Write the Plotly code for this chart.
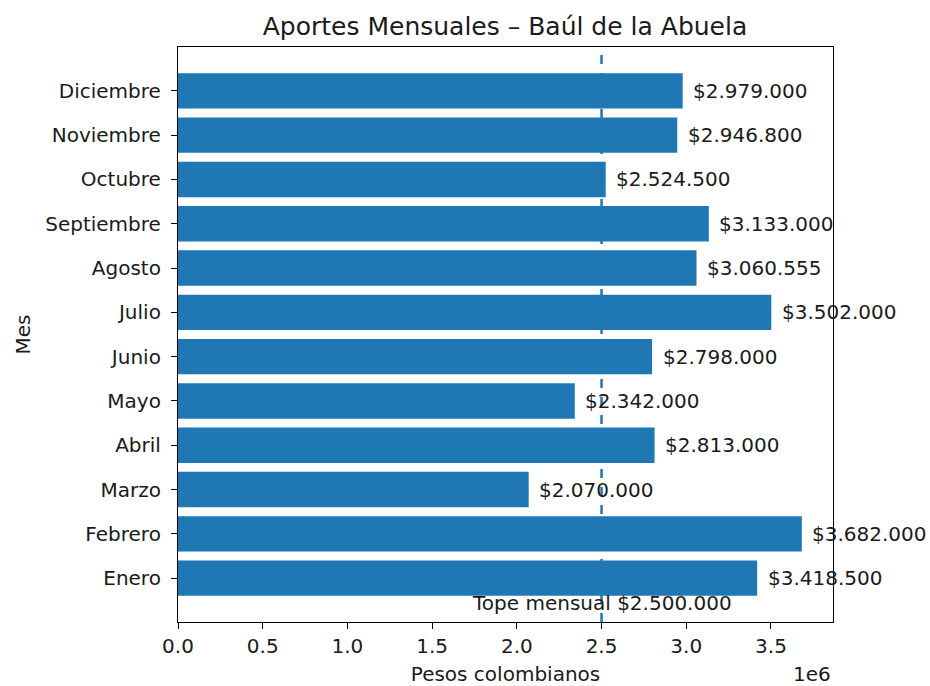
import plotly.graph_objects as go

meses = ["Enero", "Febrero", "Marzo", "Abril", "Mayo", "Junio", "Julio",
         "Agosto", "Septiembre", "Octubre", "Noviembre", "Diciembre"]
aportes = [3418500, 3682000, 2070000, 2813000, 2342000, 2798000, 3502000,
           3060555, 3133000, 2524500, 2946800, 2979000]
tope = 2500000
x_ticks = [0, 500000, 1000000, 1500000, 2000000, 2500000, 3000000, 3500000]
x_tick_labels = ["0.0", "0.5", "1.0", "1.5", "2.0", "2.5", "3.0", "3.5"]

BLUE = "#1f77b4"
FONT = "DejaVu Sans"
FS = 20
TXT = "#1a1a1a"

def fmt(v):
    return "$" + f"{v:,}".replace(",", ".")

fig = go.Figure()
fig.add_trace(go.Bar(
    x=aportes, y=list(range(len(meses))), orientation="h",
    marker=dict(color=BLUE, line=dict(width=0)), width=0.8,
    hoverinfo="skip",
))

fig.add_shape(type="line", xref="x", yref="paper", x0=tope, x1=tope, y0=0, y1=1,
              line=dict(color=BLUE, width=2.5, dash="dash"), layer="above")

annotations = []
for i, v in enumerate(aportes):
    annotations.append(dict(x=v + 50000, y=i, xref="x", yref="y", text=fmt(v),
                            showarrow=False, xanchor="left", yanchor="middle",
                            font=dict(family=FONT, size=FS, color=TXT)))
annotations.append(dict(x=tope, y=-0.55, xref="x", yref="y",
                        text="Tope mensual " + fmt(tope), showarrow=False,
                        xanchor="center", yanchor="middle",
                        font=dict(family=FONT, size=FS, color=TXT)))
annotations.append(dict(x=1, y=0, xref="paper", yref="paper", text="1e6",
                        showarrow=False, xanchor="right", yanchor="middle", yshift=-52,
                        font=dict(family=FONT, size=FS, color=TXT)))
fig.update_layout(annotations=annotations)

xmax = max(aportes) * 1.05
fig.update_layout(
    width=930, height=686,
    margin=dict(l=178, r=97, t=47, b=64),
    paper_bgcolor="white", plot_bgcolor="white",
    showlegend=False,
    font=dict(family=FONT, size=FS, color=TXT),
    title=dict(text="Aportes Mensuales – Baúl de la Abuela", x=505 / 930, xanchor="center",
               y=1 - 26 / 686, yanchor="middle", font=dict(family=FONT, size=25, color=TXT)),
    xaxis=dict(range=[0, xmax], tickvals=x_ticks, ticktext=x_tick_labels, automargin=False,
               showgrid=False, zeroline=False, showline=True, mirror=True,
               linecolor="black", linewidth=1.2, ticks="outside", ticklen=6,
               tickcolor="black", tickfont=dict(family=FONT, size=FS, color=TXT),
               title=dict(text="Pesos colombianos", standoff=10,
                          font=dict(family=FONT, size=FS, color=TXT))),
    yaxis=dict(range=[-0.99, len(meses) - 1 + 0.99], tickvals=list(range(len(meses))),
               ticktext=meses, showgrid=False, zeroline=False, showline=True, mirror=True,
               automargin=False, ticklabelstandoff=6,
               linecolor="black", linewidth=1.2, ticks="outside", ticklen=6,
               tickcolor="black", tickfont=dict(family=FONT, size=FS, color=TXT),
               title=dict(text="Mes", standoff=9,
                          font=dict(family=FONT, size=FS, color=TXT))),
)

fig.write_html("out.html", config={"displayModeBar": False},
               post_script="document.body.style.margin='0';")
